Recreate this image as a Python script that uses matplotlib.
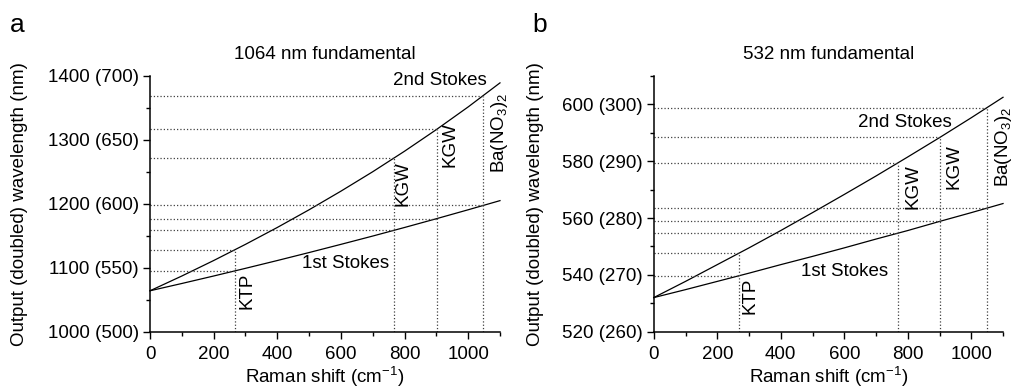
import numpy as np
import matplotlib
matplotlib.use("Agg")
import matplotlib.pyplot as plt
from matplotlib.ticker import MultipleLocator

plt.rcParams['font.family'] = ['Liberation Sans', 'DejaVu Sans']
plt.rcParams['font.size'] = 13.5
plt.rcParams['mathtext.fontset'] = 'custom'
plt.rcParams['mathtext.rm'] = 'Liberation Sans'
plt.rcParams['mathtext.it'] = 'Liberation Sans'

# Raman shift grid (cm-1) and wavelengths (nm)
shift = [0, 100, 200, 300, 400, 500, 600, 700, 800, 900, 1000, 1100]
s1_1064 = [1064.0, 1075.4, 1087.1, 1099.1, 1111.3, 1123.8, 1136.6, 1149.6, 1163.0, 1176.7, 1190.7, 1205.0]
s2_1064 = [1064.0, 1087.1, 1111.3, 1136.6, 1163.0, 1190.7, 1219.8, 1250.2, 1282.3, 1316.1, 1351.6, 1389.2]
s1_532 = [532.0, 534.8, 537.7, 540.6, 543.6, 546.5, 549.5, 552.6, 555.6, 558.8, 561.9, 565.1]
s2_532 = [532.0, 537.7, 543.6, 549.5, 555.6, 561.9, 568.3, 574.8, 581.5, 588.3, 595.3, 602.5]

# crystal Raman lines and where they hit the curves
crystals = ["KTP", "KGW", "KGW", "Ba(NO$_3$)$_2$"]
crystal_shift = [268, 768, 901, 1048]
hit1_1064 = [1094.9, 1158.7, 1176.3, 1197.4]
hit2_1064 = [1128.3, 1271.8, 1316.4, 1369.4]
hit1_532 = [539.7, 554.7, 558.8, 563.4]
hit2_532 = [547.6, 579.3, 588.4, 598.8]

yticks_1064 = [1000, 1100, 1200, 1300, 1400]
ylabels_1064 = ["1000 (500)", "1100 (550)", "1200 (600)", "1300 (650)", "1400 (700)"]
yticks_532 = [520, 540, 560, 580, 600]
ylabels_532 = ["520 (260)", "540 (270)", "560 (280)", "580 (290)", "600 (300)"]

fig = plt.figure(figsize=(10.15, 3.91), dpi=100)
ax1 = fig.add_axes([0.1478, 0.1517, 0.3448, 0.654])
ax2 = fig.add_axes([0.6441, 0.1517, 0.3441, 0.654])


def draw_panel(ax, s1, s2, hit1, hit2, ylim, yticks, ylabels, yminor, title,
               lab_pos, st2_pos, st1_pos, ypad):
    ax.plot(shift, s2, color='black', lw=0.9, clip_on=False)
    ax.plot(shift, s1, color='black', lw=0.9, clip_on=False)
    for xs, h1, h2 in zip(crystal_shift, hit1, hit2):
        ax.plot([0, xs], [h1, h1], ls=':', color='0.25', lw=0.9)
        ax.plot([0, xs], [h2, h2], ls=':', color='0.25', lw=0.9)
        ax.plot([xs, xs], [ylim[0], h2], ls=':', color='0.25', lw=0.9)
    for name, (tx, ty) in zip(crystals, lab_pos):
        ax.text(tx, ty, name, rotation=90, ha='center', va='center', clip_on=False)
    ax.text(st2_pos[0], st2_pos[1], "2nd Stokes", ha='center', va='center')
    ax.text(st1_pos[0], st1_pos[1], "1st Stokes", ha='center', va='center')

    ax.set_xlim(0, 1100)
    ax.set_ylim(*ylim)
    ax.set_xticks([0, 200, 400, 600, 800, 1000])
    ax.xaxis.set_minor_locator(MultipleLocator(100))
    ax.set_yticks(yticks)
    ax.set_yticklabels(ylabels)
    ax.yaxis.set_minor_locator(MultipleLocator(yminor))
    ax.spines['top'].set_visible(False)
    ax.spines['right'].set_visible(False)
    ax.spines['left'].set_linewidth(1.1)
    ax.spines['bottom'].set_linewidth(1.1)
    ax.tick_params(which='major', direction='out', length=5, width=1.0, pad=3)
    ax.tick_params(axis='x', which='major', pad=5)
    ax.tick_params(which='minor', direction='out', length=3, width=1.0)
    ax.set_xlabel("Raman shift (cm$^{-1}$)", labelpad=1.5)
    ax.set_ylabel("Output (doubled) wavelength (nm)", labelpad=ypad)
    ax.set_title(title, fontsize=13.5, pad=12)


draw_panel(ax1, s1_1064, s2_1064, hit1_1064, hit2_1064, (1000, 1400),
           yticks_1064, ylabels_1064, 50, "1064 nm fundamental",
           [(305, 1064), (794, 1231), (943, 1292), (1097, 1311)],
           (910, 1393), (616, 1107), 14)
draw_panel(ax2, s1_532, s2_532, hit1_532, hit2_532, (520, 610),
           yticks_532, ylabels_532, 10, "532 nm fundamental",
           [(303, 532.5), (815, 571.2), (946, 578.2), (1100, 584.9)],
           (791, 593.7), (602, 541.1), 13)

fig.text(0.010, 0.935, "a", fontsize=19, ha='left', va='center')
fig.text(0.524, 0.935, "b", fontsize=19, ha='left', va='center')

plt.savefig("out.png", dpi=100)
